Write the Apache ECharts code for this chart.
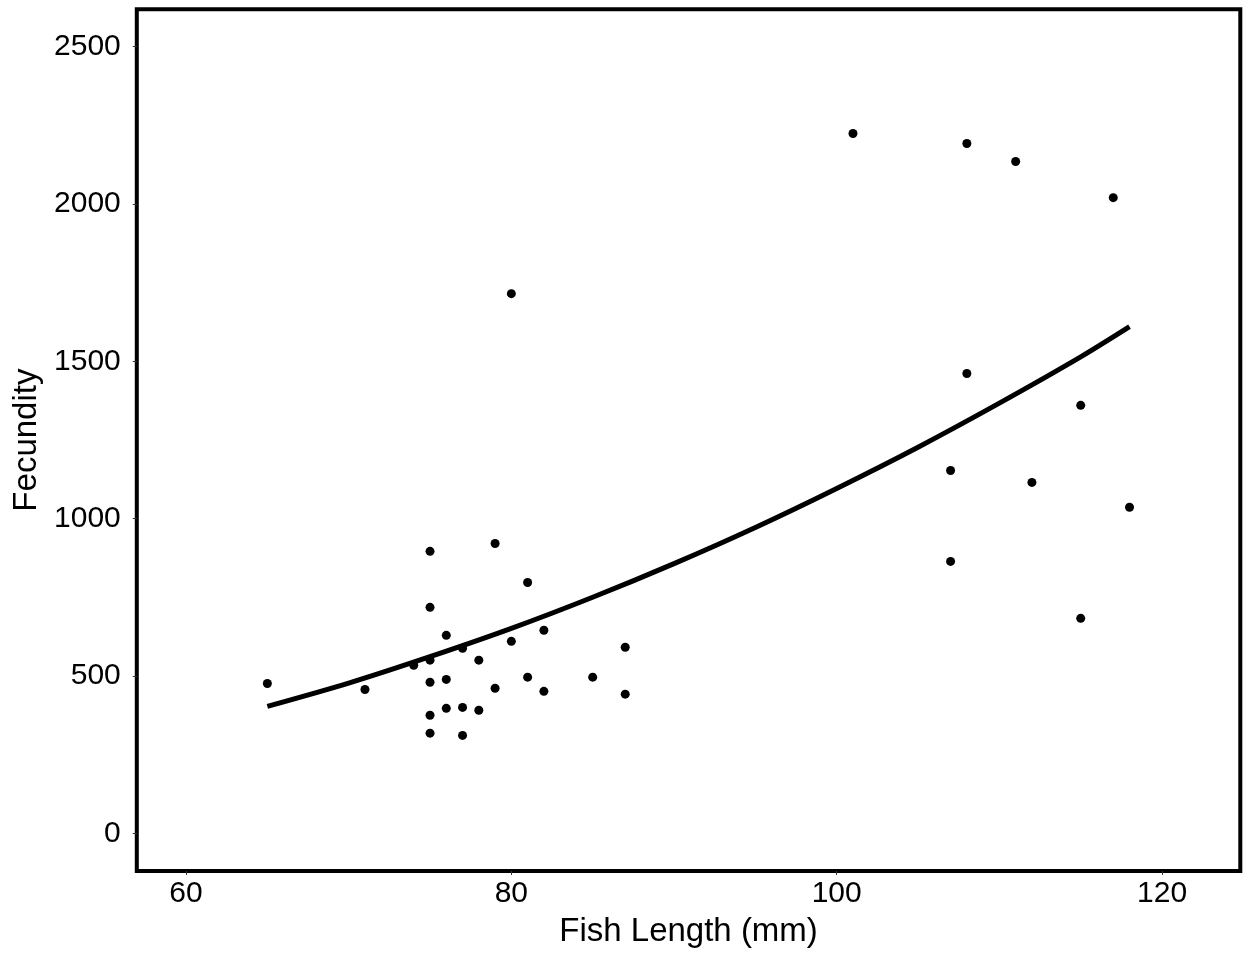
<!DOCTYPE html>
<html>
<head>
<meta charset="utf-8">
<script src="https://cdn.jsdelivr.net/npm/echarts@6/dist/echarts.min.js"></script>
<style>
html,body{margin:0;padding:0;background:#fff;}
#chart{width:1243px;height:953px;}
</style>
</head>
<body>
<div id="chart"></div>
<script>
// Observed data: fish length (mm) and fecundity
const fishLength = [65,71,74,75,75,75,75,75,75,76,76,76,77,77,77,78,78,79,79,80,80,81,81,82,82,85,87,87,101,107,107,108,108,111,112,115,115,117,118];
const fecundity  = [476,457,534,896,718,550,480,375,318,629,489,397,588,400,311,550,391,921,461,1715,610,797,496,645,451,496,591,442,2224,1153,864,2192,1461,2135,1115,1360,683,2020,1036];

// Fitted curve, values
const curveLength = [65,70,75,80,85,90,95,100,105,110,115,118];
const curveFecundity = [403,477,561,651,750,857,972,1096,1227,1367,1514,1610];

// Tick labels
const xTicks = [60,80,100,120];
const yTicks = [0,500,1000,1500,2000,2500];

const xTitle = 'Fish Length (mm)';
const yTitle = 'Fecundity';

const chart = echarts.init(document.getElementById('chart'), null, {renderer:'canvas'});
const font = '"Liberation Sans", Arial, sans-serif';

const option = {
  animation: false,
  backgroundColor: '#ffffff',
  grid: {
    left: 136.8, right: 2.7, top: 9.2, bottom: 82,
    show: true, borderColor: '#000', borderWidth: 4, backgroundColor: 'transparent',
    containLabel: false
  },
  xAxis: {
    type: 'value', min: 56.975, max: 124.81,
    name: xTitle, nameLocation: 'middle', nameGap: 44,
    nameTextStyle: {fontFamily: font, fontSize: 33, color: '#000'},
    axisLine: {show: false, onZero: false},
    splitLine: {show: false},
    axisTick: {show: true, customValues: xTicks, length: 4, lineStyle: {color: '#333', width: 1}},
    axisLabel: {customValues: xTicks, fontFamily: font, fontSize: 30, color: '#000', margin: 8,
      formatter: v => String(v)}
  },
  yAxis: {
    type: 'value', min: -120, max: 2619,
    name: yTitle, nameLocation: 'middle', nameGap: 92,
    nameTextStyle: {fontFamily: font, fontSize: 33, color: '#000'},
    axisLine: {show: false, onZero: false},
    splitLine: {show: false},
    axisTick: {show: true, customValues: yTicks, length: 4, lineStyle: {color: '#333', width: 1}},
    axisLabel: {customValues: yTicks, fontFamily: font, fontSize: 30, color: '#000', margin: 16,
      formatter: v => String(v)}
  },
  series: [
    {
      type: 'line',
      data: curveLength.map((x, i) => [x, curveFecundity[i]]),
      smooth: 0.3,
      showSymbol: false,
      lineStyle: {color: '#000', width: 5, cap: 'butt'},
      z: 2
    },
    {
      type: 'scatter',
      data: fishLength.map((x, i) => [x, fecundity[i]]),
      symbol: 'circle',
      symbolSize: 9,
      itemStyle: {color: '#000', opacity: 1},
      z: 3
    }
  ]
};
chart.setOption(option);
</script>
</body>
</html>
